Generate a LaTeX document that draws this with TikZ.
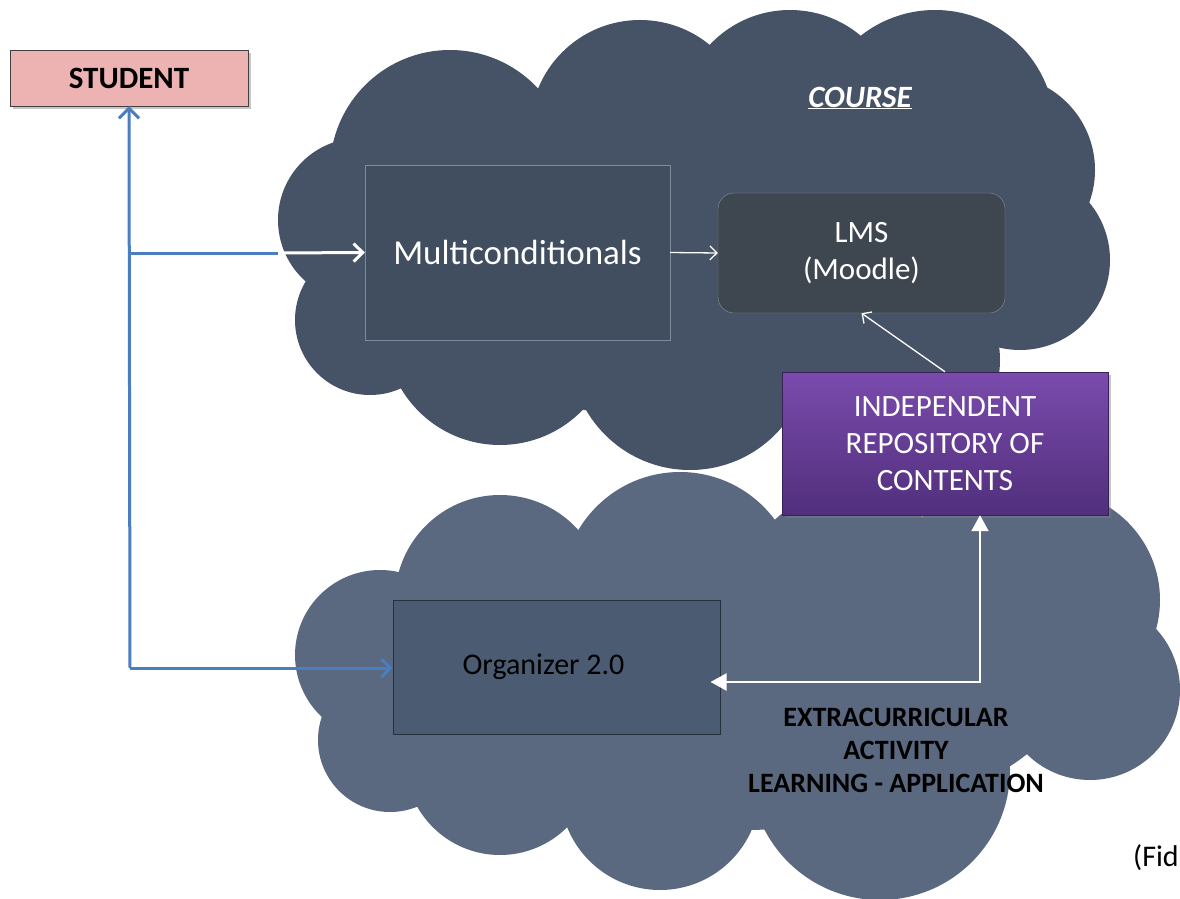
\documentclass[tikz,border=0pt]{standalone}
\usepackage{fontspec}
\setmainfont{Carlito}
\usetikzlibrary{arrows.meta,shadows}

\definecolor{upcloud}{HTML}{465265}
\definecolor{lowcloud}{HTML}{5A6980}
\definecolor{studfill}{HTML}{EDB3B3}
\definecolor{multifill}{HTML}{414E60}
\definecolor{multiline}{HTML}{7E8B9C}
\definecolor{lmsfill}{HTML}{3E474F}
\definecolor{lmsline}{HTML}{8A929B}
\definecolor{orgfill}{HTML}{4B5B72}
\definecolor{orgline}{HTML}{26313F}
\definecolor{purptop}{HTML}{7A4BAD}
\definecolor{purpbot}{HTML}{512F7C}
\definecolor{linkblue}{HTML}{4A7DC1}

\begin{document}
\begin{tikzpicture}[x=1pt,y=-1pt,
  box/.style={inner sep=0pt,align=center},
  boxshadow/.style={drop shadow={shadow xshift=3pt,shadow yshift=-3pt,opacity=0.45}},
  bluelink/.style={draw=linkblue,line width=3pt},
  whitelink/.style={draw=white,line width=1.3pt},
  barb/.style={-{Straight Barb[length=#1,width=2*#1]}}]
\useasboundingbox (0,0) rectangle (1180,899);
% clouds
\fill[upcloud] (700,250) ellipse (340pt and 170pt);
\foreach \x/\y/\r in {450/170/120,640/130/110,790/120/110,935/130/120,
  1000/170/95,1020/260/90,900/360/100,690/350/120,500/330/115,
  370/320/75,360/220/82}
  \fill[upcloud] (\x,\y) circle (\r pt);
\fill[lowcloud] (740,680) ellipse (330pt and 150pt);
\foreach \x/\y/\r in {500/600/105,680/590/118,850/600/110,960/620/110,1050/600/110,
  1090/690/90,880/770/130,660/790/100,500/760/95,390/740/72,380/655/85}
  \fill[lowcloud] (\x,\y) circle (\r pt);
% boxes
\node[box,draw=black!75,fill=studfill,boxshadow,minimum width=238pt,minimum height=56pt,
  font=\fontsize{31}{36}\selectfont\bfseries] (stu) at (129,78) {STUDENT};
\node[box,draw=multiline,fill=multifill,minimum width=305pt,minimum height=175pt,
  text=white,font=\fontsize{35}{40}\selectfont] (mc) at (517.5,252.5) {Multiconditionals};
\node[box,draw=lmsline,fill=lmsfill,rounded corners=16pt,minimum width=287pt,minimum height=120pt,
  text=white,font=\fontsize{31}{37}\selectfont] (lms) at (861.5,253) {LMS\\(Moodle)};
\node[box,draw=purpbot!70!black,top color=purptop,bottom color=purpbot,boxshadow,
  minimum width=326pt,minimum height=143pt,text=white,font=\fontsize{31}{37}\selectfont]
  (rep) at (945,443.5) {INDEPENDENT\\REPOSITORY OF\\CONTENTS};
\node[box,draw=orgline,line width=1pt,fill=orgfill,minimum width=327pt,minimum height=134pt,
  text=black,font=\fontsize{30}{37}\selectfont] (org) at (556.5,667) {Organizer 2.0\hspace*{26pt}};
% texts
\node[box,text=white,font=\fontsize{31}{36}\selectfont\bfseries\itshape] (course) at (860,98)
  {\underline{COURSE}};
\node[box,text=black,font=\fontsize{28}{33}\selectfont\bfseries] (extra) at (896,750)
  {EXTRACURRICULAR\\ACTIVITY\\LEARNING - APPLICATION};
\node[anchor=west,inner sep=0pt,font=\fontsize{30}{34}\selectfont] (fid) at (1133,858) {(Fid};
% connectors
\coordinate (jtop) at (130,253);
\coordinate (jbot) at (130,668);
\coordinate (edge) at (278,253);
\coordinate (bend) at (980,682);
\draw[bluelink,barb=10pt] (jbot) -- (stu.south);
\draw[bluelink] (jtop) -- (edge);
\draw[bluelink,barb=9pt] (jbot) -- (org.west |- jbot);
\draw[draw=white,line width=3pt,barb=9pt] (edge) -- (mc.west);
\draw[whitelink,barb=7pt] (mc.east) -- (lms.west);
\draw[whitelink,barb=7pt] (rep.north) -- (lms.south);
\draw[draw=white,line width=2pt,{Triangle[length=16pt,width=17pt]}-{Triangle[length=16pt,width=17pt]}]
  (rep.south -| bend) -- (bend) -- ([xshift=-10pt]org.east |- bend);
\end{tikzpicture}
\end{document}
